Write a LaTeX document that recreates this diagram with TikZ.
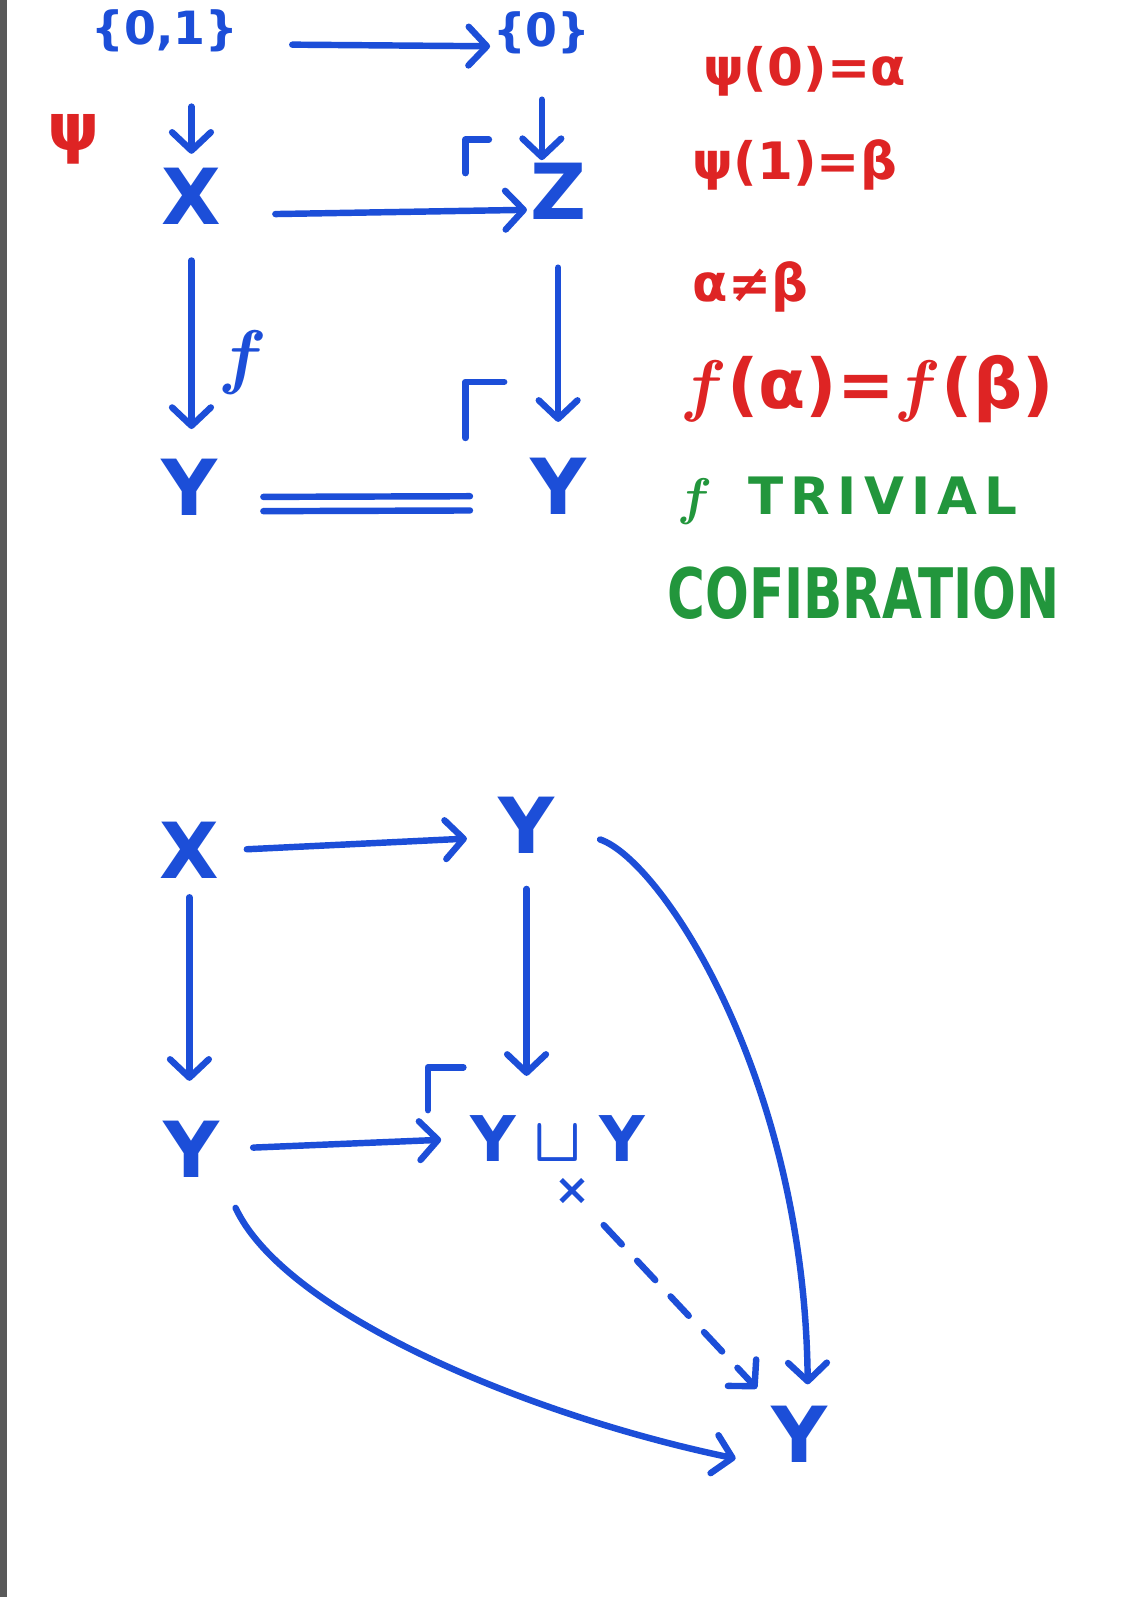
\RequirePackage{fix-cm}
\documentclass[tikz,border=0pt]{standalone}
\usepackage{bm}
\usepackage{fontspec}
\setmainfont{DejaVu Sans}
\usepackage{graphicx}
\usetikzlibrary{arrows.meta,calc,positioning}
\definecolor{penblue}{RGB}{28,78,216}
\definecolor{penred}{RGB}{222,36,36}
\definecolor{pengreen}{RGB}{34,150,60}

\begin{document}
\begin{tikzpicture}[x=0.025cm,y=-0.025cm,>={Straight Barb[length=4.5mm,width=9.5mm,round]}]
  \tikzset{
    obj/.style={text=penblue,inner sep=2pt,font=\fontsize{54}{60}\selectfont\bfseries},
    small/.style={text=penblue,inner sep=2pt,font=\fontsize{32}{38}\selectfont\bfseries},
    arr/.style={->,draw=penblue,line width=4.5pt,line cap=round},
    corner/.style={draw=penblue,line width=4.5pt,line cap=round,line join=round},
    note/.style={text=penred,anchor=west,inner sep=0pt,font=\fontsize{36}{42}\selectfont\bfseries},
    tag/.style={text=pengreen,anchor=west,inner sep=0pt,font=\fontsize{36}{42}\selectfont\bfseries}
  }
  \useasboundingbox (0,0) rectangle (1116,1568);
  \fill[white] (0,0) rectangle (1116,1568);
  \fill[black!65] (0,0) rectangle (7,1568);
  % first square
  \node[small] (n01) at (162,30) {\{0,1\}};
  \node[small] (n0) at (532,32) {\{0\}};
  \node[obj,text=penred,font=\fontsize{46}{50}\selectfont\bfseries] (psi) at (72,137) {ψ};
  \node[obj] (X1) at (188,193) {X};
  \node[obj] (Z1) at (548,188) {Z};
  \node[obj] (Y1l) at (186,478) {Y};
  \node[obj] (Y1r) at (548,477) {Y};
  \node[obj,font=\fontsize{50}{54}\selectfont] (flab) at (238,356) {$\bm{f}$};
  \draw[arr,shorten <=1.25cm] (n01.base east) -- (n0.base west);
  \draw[arr,shorten <=1.27cm,shorten >=0.28cm] (n01.south -| X1.north) -- (X1.north);
  \draw[arr,shorten <=1.05cm] (n0.south) -- (n0.south |- Z1.north);
  \draw[arr,shorten <=1.25cm] ([yshift=-0.45cm]X1.east) -- ([yshift=-0.45cm]Z1.west);
  \draw[arr,shorten <=0.8cm,shorten >=0.65cm] (X1.south) -- (X1.south |- Y1l.north);
  \draw[arr,shorten <=1.1cm,shorten >=0.8cm] (Z1.south) -- (Z1.south |- Y1r.north);
  \draw[corner,shorten <=1.05cm,shorten >=1.4cm] ([yshift=-0.25cm]Y1l.east) -- ([yshift=-0.25cm]Y1r.west);
  \draw[corner,shorten <=1.05cm,shorten >=1.4cm] ([yshift=-0.6cm]Y1l.east) -- ([yshift=-0.6cm]Y1r.west);
  \draw[corner] (457,170) -- (457,137) -- (480,137);
  \draw[corner] (457,430) -- (457,375) -- (495,375);
  % notes
  \node[note] (eq1) at (690,70) {ψ(0)=α};
  \node[note] (eq2) at (680,162) {ψ(1)=β};
  \node[note] (neq) at (680,282) {α≠β};
  \node[note,font=\fontsize{48}{54}\selectfont\bfseries] (eq3) at (668,382) {$\bm{f}$(α)=$\bm{f}$(β)};
  \node[tag] (triv) at (665,492) {$\bm{f}$\ \ {\addfontfeature{LetterSpace=14}TRIVIAL}};
  \node[tag] (cof) at (655,582) {\scalebox{1}[1.35]{COFIBRATION}};
  % second square
  \node[obj] (X2) at (186,835) {X};
  \node[obj] (Ytop) at (517,810) {Y};
  \node[obj] (Ybl) at (188,1128) {Y};
  \node[obj,font=\fontsize{44}{50}\selectfont\bfseries] (YuY) at (548,1118) {Y\;$\bm{\sqcup}$\;Y};
  \node[obj,font=\fontsize{30}{30}\selectfont\bfseries] (cross) at (562,1170) {×};
  \node[obj] (Ybot) at (785,1408) {Y};
  \draw[arr,shorten <=0.6cm,shorten >=0.7cm] (X2.east) -- ([yshift=-0.3cm]Ytop.west);
  \draw[arr,shorten <=0.8cm,shorten >=0.9cm] (Ytop.south) -- (Ytop.south |- YuY.north);
  \draw[arr,shorten <=0.38cm,shorten >=0.9cm] (X2.south) -- (X2.south |- Ybl.north);
  \draw[arr,shorten <=0.75cm,shorten >=0.65cm] (Ybl.east) -- (YuY.west);
  \draw[corner] (420,1090) -- (420,1048) -- (455,1048);
  \draw[arr,dash pattern=on 0.65cm off 0.55cm,shorten <=0.58cm,shorten >=0.48cm] (cross) -- (Ybot);
  \draw[arr,shorten <=1.1cm,shorten >=0.45cm] (Ytop.east) .. controls (650,845) and (790,1060) .. (Ybot.75);
  \draw[arr,shorten <=0.75cm,shorten >=0.82cm] (Ybl.south east) .. controls (280,1290) and (520,1390) .. (Ybot.south west);
\end{tikzpicture}
\end{document}
